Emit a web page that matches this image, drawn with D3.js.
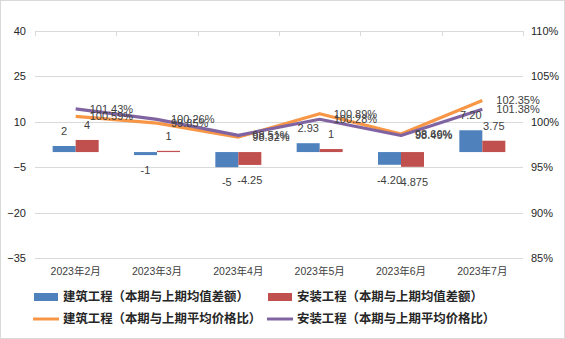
<!DOCTYPE html>
<html><head><meta charset="utf-8">
<script src="https://cdn.jsdelivr.net/npm/d3@7"></script>
<style>
html,body{margin:0;padding:0;background:#fff;}
svg{display:block;}
</style></head>
<body>
<svg id="c" width="565" height="339"></svg>
<script>
const months = ["2023年2月","2023年3月","2023年4月","2023年5月","2023年6月","2023年7月"];
const blueValues = [2, -1, -5, 2.93, -4.2, 7.2];
const blueLabels = ["2","-1","-5","2.93","-4.20","7.20"];
const redValues = [4, 0.4, -4.25, 1, -4.875, 3.75];
const redLabels = ["4","1","-4.25","1","-4.875","3.75"];
const orangeValues = [100.59, 99.85, 98.32, 100.89, 98.66, 102.35];
const purpleValues = [101.43, 100.26, 98.51, 100.28, 98.49, 101.38];
const leftTicks = [40, 25, 10, -5, -20, -35];
const rightTicks = [110, 105, 100, 95, 90, 85];
const seriesNames = ["建筑工程（本期与上期均值差额）","安装工程（本期与上期均值差额）","建筑工程（本期与上期平均价格比）","安装工程（本期与上期平均价格比）"];

const C = {blue:"#4F81BD", red:"#C0504D", orange:"#F79646", purple:"#8064A2", grid:"#D9D9D9", txt:"#404040"};
const svg = d3.select("#c");
const X0 = 35, X1 = 523, Y0 = 31, Y1 = 258;
const numFont = "'Liberation Sans', Arial, sans-serif";
const cjkFont = "'Liberation Sans', 'Noto Sans CJK SC', sans-serif";

svg.append("rect").attr("x",0.5).attr("y",0.5).attr("width",564).attr("height",338)
  .attr("fill","#fff").attr("stroke","#D9D9D9");

const x = d3.scaleBand().domain(months).range([X0, X1]).padding(0);
const yL = d3.scaleLinear().domain([-35, 40]).range([Y1, Y0]);
const yR = d3.scaleLinear().domain([85, 110]).range([Y1, Y0]);
const barW = 23;

// gridlines
svg.append("g").selectAll("line").data(leftTicks).join("line")
  .attr("x1", X0).attr("x2", X1)
  .attr("y1", d => Math.round(yL(d)) + 0.5).attr("y2", d => Math.round(yL(d)) + 0.5)
  .attr("stroke", C.grid).attr("stroke-width", 1);

// category tick marks at top axis line
const bounds = months.map(m => x(m)).concat([X1]);
svg.append("g").selectAll("line").data(bounds).join("line")
  .attr("x1", d => Math.round(d) + 0.5).attr("x2", d => Math.round(d) + 0.5)
  .attr("y1", Y0).attr("y2", Y0 + 5)
  .attr("stroke", C.grid);

// left axis labels
const gl = d3.axisLeft(yL).tickValues(leftTicks).tickSize(0).tickPadding(0).tickFormat(d => d < 0 ? "−" + Math.abs(d) : d);
const gL = svg.append("g").attr("transform", `translate(26,0)`).call(gl);
gL.select(".domain").remove();
gL.selectAll("text").attr("font-family", numFont).attr("font-size", "11px").attr("fill", "#262626");

// right axis labels
const gr = d3.axisRight(yR).tickValues(rightTicks).tickSize(0).tickPadding(0).tickFormat(d => d + "%");
const gR = svg.append("g").attr("transform", `translate(531,0)`).call(gr);
gR.select(".domain").remove();
gR.selectAll("text").attr("font-family", numFont).attr("font-size", "11px").attr("fill", "#262626");

// x labels
const gx = d3.axisBottom(x).tickSize(0).tickPadding(0);
const gX = svg.append("g").attr("transform", `translate(0,${Y1 + 10})`).call(gx);
gX.select(".domain").remove();
gX.selectAll("text").attr("font-family", cjkFont).attr("font-size", "10.5px").attr("fill", "#404040");

// bars
function bars(vals, color, off) {
  svg.append("g").selectAll("rect").data(vals).join("rect")
    .attr("x", (d, i) => x(months[i]) + x.bandwidth() / 2 + off)
    .attr("width", barW)
    .attr("y", d => Math.min(yL(d), yL(0)))
    .attr("height", d => Math.abs(yL(d) - yL(0)))
    .attr("fill", color);
}
bars(blueValues, C.blue, -barW);
bars(redValues, C.red, 0);

// lines
const line = d3.line().x((d, i) => x(months[i]) + x.bandwidth() / 2).y(d => yR(d));
svg.append("path").datum(orangeValues).attr("d", line).attr("fill", "none")
  .attr("stroke", C.orange).attr("stroke-width", 3.2).attr("stroke-linejoin", "round");
svg.append("path").datum(purpleValues).attr("d", line).attr("fill", "none")
  .attr("stroke", C.purple).attr("stroke-width", 3.2).attr("stroke-linejoin", "round");

// bar labels
function barLabels(vals, labels, off) {
  svg.append("g").selectAll("text").data(vals).join("text")
    .attr("x", (d, i) => x(months[i]) + x.bandwidth() / 2 + off + barW / 2)
    .attr("y", d => yL(d) + (d >= 0 ? -15 : 15))
    .attr("dy", "0.35em")
    .attr("text-anchor", "middle")
    .attr("font-family", numFont).attr("font-size", "11px").attr("fill", C.txt)
    .text((d, i) => labels[i]);
}
barLabels(blueValues, blueLabels, -barW);
barLabels(redValues, redLabels, 0);

// line labels
function lineLabels(vals) {
  svg.append("g").selectAll("text").data(vals).join("text")
    .attr("x", (d, i) => x(months[i]) + x.bandwidth() / 2 + 14)
    .attr("y", d => yR(d))
    .attr("dy", "0.35em")
    .attr("font-family", numFont).attr("font-size", "11px").attr("fill", C.txt)
    .text(d => d3.format(".2f")(d) + "%");
}
lineLabels(orangeValues);
lineLabels(purpleValues);

// legend
const leg = [
  {name: seriesNames[0], type: "rect", color: C.blue, sx: 34, tx: 63, y: 297},
  {name: seriesNames[1], type: "rect", color: C.red, sx: 268, tx: 297, y: 297},
  {name: seriesNames[2], type: "line", color: C.orange, sx: 33, tx: 63, y: 319},
  {name: seriesNames[3], type: "line", color: C.purple, sx: 267, tx: 297, y: 319}
];
const lg = svg.append("g");
leg.forEach(d => {
  if (d.type === "rect") {
    lg.append("rect").attr("x", d.sx).attr("y", d.y - 4).attr("width", 24).attr("height", 8).attr("fill", d.color);
  } else {
    lg.append("line").attr("x1", d.sx).attr("x2", d.sx + 26).attr("y1", d.y).attr("y2", d.y)
      .attr("stroke", d.color).attr("stroke-width", 3);
  }
  lg.append("text").attr("x", d.tx).attr("y", d.y).attr("dy", "0.36em")
    .attr("font-family", "'Noto Sans CJK SC', sans-serif").attr("font-weight", "bold")
    .attr("font-size", "12.4px").attr("fill", "#262626").text(d.name);
});
</script>
</body></html>
